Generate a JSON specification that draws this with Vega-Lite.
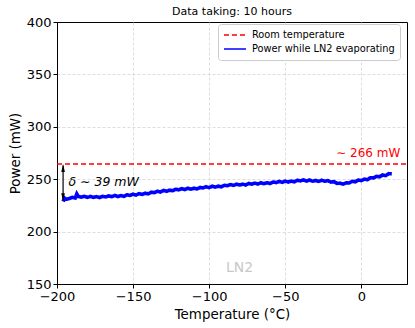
{
  "$schema": "https://vega.github.io/schema/vega-lite/v6.json",
  "width": 350,
  "height": 262,
  "autosize": {"type": "none"},
  "padding": {"left": 57, "top": 22, "right": 8, "bottom": 44},
  "background": "white",
  "config": {
    "font": "DejaVu Sans",
    "view": {"stroke": "black", "strokeWidth": 1},
    "axis": {
      "domainColor": "black",
      "tickColor": "black",
      "labelColor": "black",
      "titleColor": "black",
      "labelFontSize": 13,
      "titleFontSize": 13.4,
      "titleFontWeight": "normal",
      "tickSize": 4,
      "labelPadding": 2,
      "labelFlush": false,
      "labelOverlap": false,
      "gridColor": "#d4d4d4",
      "gridDash": [3, 2],
      "gridWidth": 0.8
    }
  },
  "title": {
    "text": "Data taking: 10 hours",
    "fontSize": 11,
    "fontWeight": "normal",
    "color": "black",
    "anchor": "middle",
    "frame": "group",
    "offset": -1
  },
  "datasets": {
    "room": [
      {"T": -200, "P": 264.5, "series": "Room temperature"},
      {"T": 30, "P": 264.5, "series": "Room temperature"}
    ],
    "power": [
      {"T": -196, "P": 228.8, "series": "Power while LN2 evaporating"},
      {"T": -195, "P": 232, "series": "Power while LN2 evaporating"},
      {"T": -194, "P": 230.8, "series": "Power while LN2 evaporating"},
      {"T": -192, "P": 231.5, "series": "Power while LN2 evaporating"},
      {"T": -190, "P": 232.7, "series": "Power while LN2 evaporating"},
      {"T": -188, "P": 232.1, "series": "Power while LN2 evaporating"},
      {"T": -187, "P": 236, "series": "Power while LN2 evaporating"},
      {"T": -186, "P": 233.5, "series": "Power while LN2 evaporating"},
      {"T": -184, "P": 232.8, "series": "Power while LN2 evaporating"},
      {"T": -182, "P": 233.7, "series": "Power while LN2 evaporating"},
      {"T": -180, "P": 232.6, "series": "Power while LN2 evaporating"},
      {"T": -178, "P": 233.6, "series": "Power while LN2 evaporating"},
      {"T": -176, "P": 232.6, "series": "Power while LN2 evaporating"},
      {"T": -174, "P": 233.3, "series": "Power while LN2 evaporating"},
      {"T": -172, "P": 232.5, "series": "Power while LN2 evaporating"},
      {"T": -170, "P": 233.7, "series": "Power while LN2 evaporating"},
      {"T": -168, "P": 233.1, "series": "Power while LN2 evaporating"},
      {"T": -166, "P": 234.1, "series": "Power while LN2 evaporating"},
      {"T": -164, "P": 233.3, "series": "Power while LN2 evaporating"},
      {"T": -162, "P": 234.5, "series": "Power while LN2 evaporating"},
      {"T": -160, "P": 233.5, "series": "Power while LN2 evaporating"},
      {"T": -158, "P": 234.4, "series": "Power while LN2 evaporating"},
      {"T": -156, "P": 233.7, "series": "Power while LN2 evaporating"},
      {"T": -154, "P": 235.1, "series": "Power while LN2 evaporating"},
      {"T": -152, "P": 234.6, "series": "Power while LN2 evaporating"},
      {"T": -150, "P": 235.7, "series": "Power while LN2 evaporating"},
      {"T": -148, "P": 234.9, "series": "Power while LN2 evaporating"},
      {"T": -146, "P": 236.3, "series": "Power while LN2 evaporating"},
      {"T": -144, "P": 235.5, "series": "Power while LN2 evaporating"},
      {"T": -142, "P": 236.6, "series": "Power while LN2 evaporating"},
      {"T": -140, "P": 236, "series": "Power while LN2 evaporating"},
      {"T": -138, "P": 237.6, "series": "Power while LN2 evaporating"},
      {"T": -136, "P": 237.2, "series": "Power while LN2 evaporating"},
      {"T": -134, "P": 238.5, "series": "Power while LN2 evaporating"},
      {"T": -132, "P": 237.8, "series": "Power while LN2 evaporating"},
      {"T": -130, "P": 239.2, "series": "Power while LN2 evaporating"},
      {"T": -128, "P": 238.5, "series": "Power while LN2 evaporating"},
      {"T": -126, "P": 239.5, "series": "Power while LN2 evaporating"},
      {"T": -124, "P": 239, "series": "Power while LN2 evaporating"},
      {"T": -122, "P": 240.4, "series": "Power while LN2 evaporating"},
      {"T": -120, "P": 239.9, "series": "Power while LN2 evaporating"},
      {"T": -118, "P": 241, "series": "Power while LN2 evaporating"},
      {"T": -116, "P": 240.1, "series": "Power while LN2 evaporating"},
      {"T": -114, "P": 241.4, "series": "Power while LN2 evaporating"},
      {"T": -112, "P": 240.5, "series": "Power while LN2 evaporating"},
      {"T": -110, "P": 241.4, "series": "Power while LN2 evaporating"},
      {"T": -108, "P": 240.7, "series": "Power while LN2 evaporating"},
      {"T": -106, "P": 242.1, "series": "Power while LN2 evaporating"},
      {"T": -104, "P": 241.7, "series": "Power while LN2 evaporating"},
      {"T": -102, "P": 242.8, "series": "Power while LN2 evaporating"},
      {"T": -100, "P": 242, "series": "Power while LN2 evaporating"},
      {"T": -98, "P": 243.3, "series": "Power while LN2 evaporating"},
      {"T": -96, "P": 242.4, "series": "Power while LN2 evaporating"},
      {"T": -94, "P": 243.4, "series": "Power while LN2 evaporating"},
      {"T": -92, "P": 242.7, "series": "Power while LN2 evaporating"},
      {"T": -90, "P": 244.2, "series": "Power while LN2 evaporating"},
      {"T": -88, "P": 243.8, "series": "Power while LN2 evaporating"},
      {"T": -86, "P": 244.9, "series": "Power while LN2 evaporating"},
      {"T": -84, "P": 244.1, "series": "Power while LN2 evaporating"},
      {"T": -82, "P": 245.3, "series": "Power while LN2 evaporating"},
      {"T": -80, "P": 244.5, "series": "Power while LN2 evaporating"},
      {"T": -78, "P": 245.3, "series": "Power while LN2 evaporating"},
      {"T": -76, "P": 244.5, "series": "Power while LN2 evaporating"},
      {"T": -74, "P": 245.9, "series": "Power while LN2 evaporating"},
      {"T": -72, "P": 245.3, "series": "Power while LN2 evaporating"},
      {"T": -70, "P": 246.3, "series": "Power while LN2 evaporating"},
      {"T": -68, "P": 245.4, "series": "Power while LN2 evaporating"},
      {"T": -66, "P": 246.6, "series": "Power while LN2 evaporating"},
      {"T": -64, "P": 245.7, "series": "Power while LN2 evaporating"},
      {"T": -62, "P": 246.6, "series": "Power while LN2 evaporating"},
      {"T": -60, "P": 245.9, "series": "Power while LN2 evaporating"},
      {"T": -58, "P": 247.3, "series": "Power while LN2 evaporating"},
      {"T": -56, "P": 246.8, "series": "Power while LN2 evaporating"},
      {"T": -54, "P": 247.9, "series": "Power while LN2 evaporating"},
      {"T": -52, "P": 247, "series": "Power while LN2 evaporating"},
      {"T": -50, "P": 248.2, "series": "Power while LN2 evaporating"},
      {"T": -48, "P": 247.3, "series": "Power while LN2 evaporating"},
      {"T": -46, "P": 248.2, "series": "Power while LN2 evaporating"},
      {"T": -44, "P": 247.5, "series": "Power while LN2 evaporating"},
      {"T": -42, "P": 249, "series": "Power while LN2 evaporating"},
      {"T": -40, "P": 248.4, "series": "Power while LN2 evaporating"},
      {"T": -38, "P": 249.3, "series": "Power while LN2 evaporating"},
      {"T": -36, "P": 248.2, "series": "Power while LN2 evaporating"},
      {"T": -34, "P": 249.2, "series": "Power while LN2 evaporating"},
      {"T": -32, "P": 248.1, "series": "Power while LN2 evaporating"},
      {"T": -30, "P": 248.8, "series": "Power while LN2 evaporating"},
      {"T": -28, "P": 247.9, "series": "Power while LN2 evaporating"},
      {"T": -26, "P": 249, "series": "Power while LN2 evaporating"},
      {"T": -24, "P": 248.1, "series": "Power while LN2 evaporating"},
      {"T": -22, "P": 248.7, "series": "Power while LN2 evaporating"},
      {"T": -20, "P": 247.2, "series": "Power while LN2 evaporating"},
      {"T": -18, "P": 247.7, "series": "Power while LN2 evaporating"},
      {"T": -16, "P": 246, "series": "Power while LN2 evaporating"},
      {"T": -14, "P": 246.2, "series": "Power while LN2 evaporating"},
      {"T": -12, "P": 245.3, "series": "Power while LN2 evaporating"},
      {"T": -10, "P": 246.5, "series": "Power while LN2 evaporating"},
      {"T": -8, "P": 246.4, "series": "Power while LN2 evaporating"},
      {"T": -6, "P": 248, "series": "Power while LN2 evaporating"},
      {"T": -4, "P": 247.5, "series": "Power while LN2 evaporating"},
      {"T": -2, "P": 249.2, "series": "Power while LN2 evaporating"},
      {"T": 0, "P": 248.7, "series": "Power while LN2 evaporating"},
      {"T": 2, "P": 250, "series": "Power while LN2 evaporating"},
      {"T": 4, "P": 249.6, "series": "Power while LN2 evaporating"},
      {"T": 6, "P": 251.4, "series": "Power while LN2 evaporating"},
      {"T": 8, "P": 251.2, "series": "Power while LN2 evaporating"},
      {"T": 10, "P": 252.7, "series": "Power while LN2 evaporating"},
      {"T": 12, "P": 252.3, "series": "Power while LN2 evaporating"},
      {"T": 14, "P": 254, "series": "Power while LN2 evaporating"},
      {"T": 16, "P": 253.4, "series": "Power while LN2 evaporating"},
      {"T": 18, "P": 255.3, "series": "Power while LN2 evaporating"},
      {"T": 20, "P": 255.1, "series": "Power while LN2 evaporating"}
    ]
  },
  "encoding": {
    "x": {
      "field": "T",
      "type": "quantitative",
      "scale": {"domain": [-200, 30], "nice": false, "zero": false},
      "axis": {
        "values": [-200, -150, -100, -50, 0],
        "title": "Temperature (°C)",
        "titlePadding": 4,
        "gridOpacity": {"condition": {"test": "datum.value == -200", "value": 0}, "value": 1}
      }
    },
    "y": {
      "field": "P",
      "type": "quantitative",
      "scale": {"domain": [150, 400], "nice": false, "zero": false},
      "axis": {
        "values": [150, 200, 250, 300, 350, 400],
        "title": "Power (mW)",
        "titlePadding": 4,
        "gridOpacity": {"condition": {"test": "datum.value == 150 || datum.value == 400", "value": 0}, "value": 1}
      }
    }
  },
  "layer": [
    {
      "data": {"name": "room"},
      "mark": {"type": "line", "clip": true, "strokeWidth": 1.5},
      "encoding": {
        "color": {
          "field": "series",
          "type": "nominal",
          "scale": {"domain": ["Room temperature", "Power while LN2 evaporating"], "range": ["#ff0000", "#0000ff"]},
          "legend": {
            "title": null,
            "orient": "none",
            "legendX": 161,
            "legendY": 2,
            "symbolType": "stroke",
            "symbolSize": 484,
            "symbolStrokeWidth": 1.5,
            "clipHeight": 12,
            "labelFontSize": 9.8,
            "labelColor": "black",
            "labelOffset": 5,
            "fillColor": "white",
            "strokeColor": "#cccccc",
            "cornerRadius": 3,
            "padding": 5,
            "rowPadding": 2,
            "encode": {"symbols": {"update": {"strokeWidth": {"value": 1.5}}}}
          }
        },
        "strokeDash": {
          "field": "series",
          "type": "nominal",
          "scale": {"domain": ["Room temperature", "Power while LN2 evaporating"], "range": [[5, 3], [1, 0]]}
        }
      }
    },
    {
      "data": {"name": "power"},
      "mark": {"type": "line", "clip": true, "strokeWidth": 3.6},
      "encoding": {
        "color": {"field": "series", "type": "nominal"},
        "strokeDash": {"field": "series", "type": "nominal"}
      }
    },
    {
      "data": {"values": [{"T": -196, "P1": 231, "P2": 263}]},
      "mark": {"type": "rule", "color": "black", "strokeWidth": 1.2},
      "encoding": {
        "y": {"field": "P1", "type": "quantitative"},
        "y2": {"field": "P2"}
      }
    },
    {
      "data": {"values": [{"T": -196, "P": 260.7}]},
      "mark": {"type": "point", "filled": true, "color": "black", "opacity": 1, "size": 64, "shape": "M0,-1L0.45,1L-0.45,1Z"}
    },
    {
      "data": {"values": [{"T": -196, "P": 232.8}]},
      "mark": {"type": "point", "filled": true, "color": "black", "opacity": 1, "size": 64, "shape": "M0,1L0.45,-1L-0.45,-1Z"}
    },
    {
      "data": {"values": [{"T": -192.5, "P": 247.5, "label": "δ ∼ 39 mW"}]},
      "mark": {"type": "text", "align": "left", "baseline": "middle", "fontSize": 12.5, "fontStyle": "italic", "color": "black"},
      "encoding": {"text": {"field": "label"}}
    },
    {
      "data": {"values": [{"T": 25.6, "P": 274.7, "label": "∼ 266 mW"}]},
      "mark": {"type": "text", "align": "right", "baseline": "middle", "fontSize": 12, "color": "#ff0000"},
      "encoding": {"text": {"field": "label"}}
    },
    {
      "data": {"values": [{"T": -80, "P": 165, "label": "LN2"}]},
      "mark": {"type": "text", "align": "center", "baseline": "middle", "fontSize": 14, "color": "#c8c8c8"},
      "encoding": {"text": {"field": "label"}}
    }
  ]
}
